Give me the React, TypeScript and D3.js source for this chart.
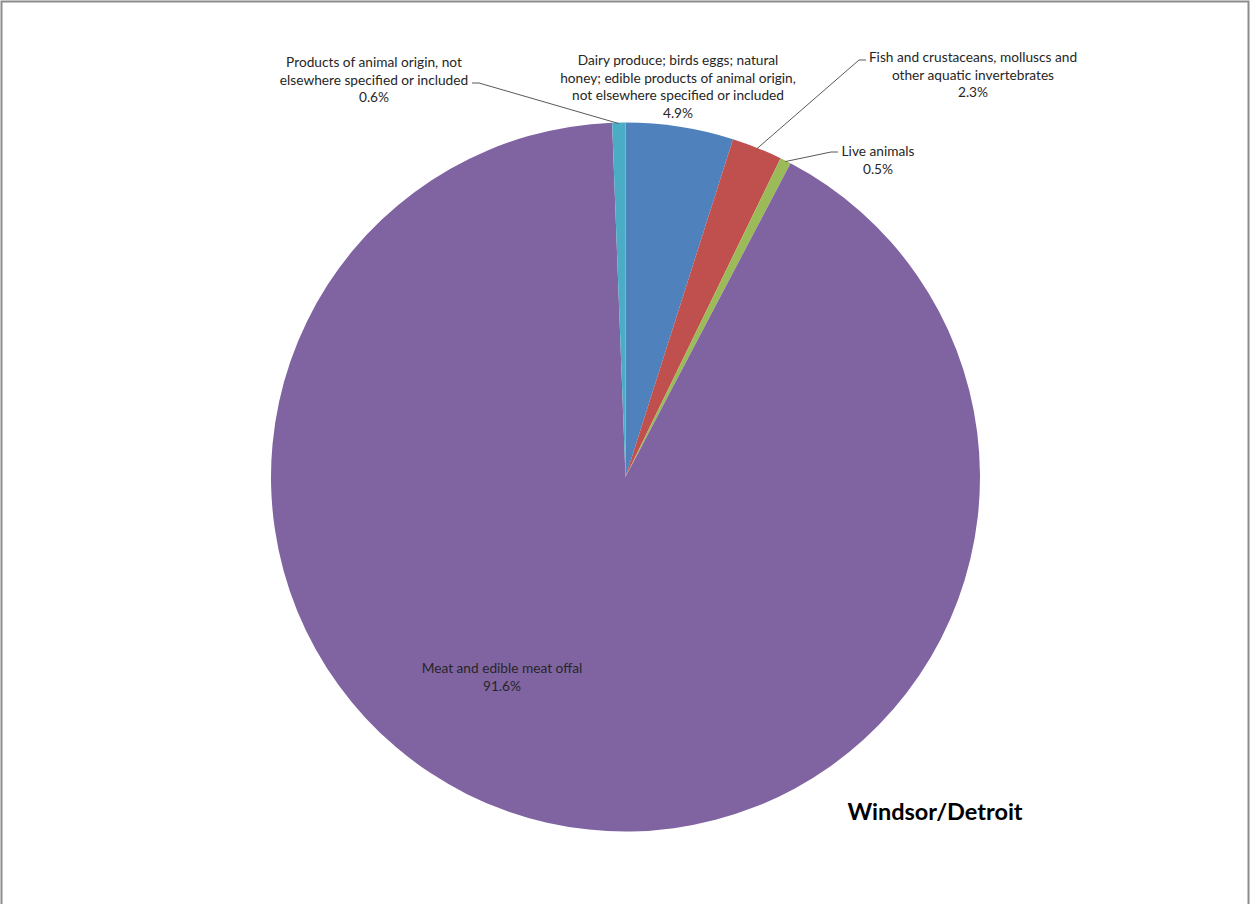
import React from "react";
import * as d3 from "d3";

const categories = [
  "Dairy produce; birds eggs; natural honey; edible products of animal origin, not elsewhere specified or included",
  "Fish and crustaceans, molluscs and other aquatic invertebrates",
  "Live animals",
  "Meat and edible meat offal",
  "Products of animal origin, not elsewhere specified or included",
];
const values = [4.9, 2.3, 0.5, 91.6, 0.6];
const valueLabels = ["4.9%", "2.3%", "0.5%", "91.6%", "0.6%"];
const labelLines = [
  ["Dairy produce; birds eggs; natural", "honey; edible products of animal origin,", "not elsewhere specified or included"],
  ["Fish and crustaceans, molluscs and", "other aquatic invertebrates"],
  ["Live animals"],
  ["Meat and edible meat offal"],
  ["Products of animal origin, not", "elsewhere specified or included"],
];
const colors = ["#4F81BD", "#C0504D", "#9BBB59", "#8064A2", "#4BACC6"];
const title = "Windsor/Detroit";

// layout (label anchors, leader elbows)
const W = 1250, H = 904;
const cx = 625.5, cy = 477, R = 354.5;
const labelLayout = [
  { x: 678, y: 65, anchor: "middle", elbow: null as null | [number, number] },
  { x: 973, y: 62, anchor: "middle", elbow: [859, 60] as [number, number] },
  { x: 878, y: 156, anchor: "middle", elbow: [831, 152] as [number, number] },
  { x: 502, y: 673, anchor: "middle", elbow: null },
  { x: 374, y: 67, anchor: "middle", elbow: [479, 83] as [number, number] },
];
const lineH = 17.5;
const FONT = "Lato, 'Open Sans', sans-serif";

export default function App() {
  const pie = d3.pie<number>().sort(null).value((d) => d);
  const arcs = pie(values);
  const arc = d3.arc<d3.PieArcDatum<number>>().innerRadius(0).outerRadius(R);

  return (
    <svg
      width={W}
      height={H}
      style={{ position: "absolute", left: 0, top: 0, background: "#fff" }}
    >
      <rect x={1.5} y={1.5} width={W - 3} height={H + 10} fill="#fff" stroke="#8c8c8c" strokeWidth={2} />
      <g transform={`translate(${cx},${cy})`}>
        {arcs.map((a, i) => (
          <path key={categories[i]} d={arc(a) || ""} fill={colors[i]} />
        ))}
      </g>
      {arcs.map((a, i) => {
        const L = labelLayout[i];
        const lines = [...labelLines[i], valueLabels[i]];
        let leader = null;
        if (L.elbow) {
          const mid = (a.startAngle + a.endAngle) / 2;
          const px = cx + Math.sin(mid) * (R - 1);
          const py = cy - Math.cos(mid) * (R - 1);
          const side = L.elbow[0] < px ? 1 : -1;
          const ex = L.elbow[0];
          const ey = L.elbow[1];
          leader = (
            <polyline
              points={`${ex - side * 7},${ey} ${ex},${ey} ${px},${py}`}
              fill="none"
              stroke="#595959"
              strokeWidth={1}
            />
          );
        }
        return (
          <g key={"lab" + i}>
            {leader}
            <text
              fontFamily={FONT}
              fontSize={13.7}
              fill="#262626"
              textAnchor={L.anchor as any}
            >
              {lines.map((t, j) => (
                <tspan key={j} x={L.x} y={L.y + j * lineH}>
                  {t}
                </tspan>
              ))}
            </text>
          </g>
        );
      })}
      <text x={935} y={820} fontFamily={FONT} fontWeight="bold" fontSize={23.5} textAnchor="middle" fill="#000">
        {title}
      </text>
    </svg>
  );
}
